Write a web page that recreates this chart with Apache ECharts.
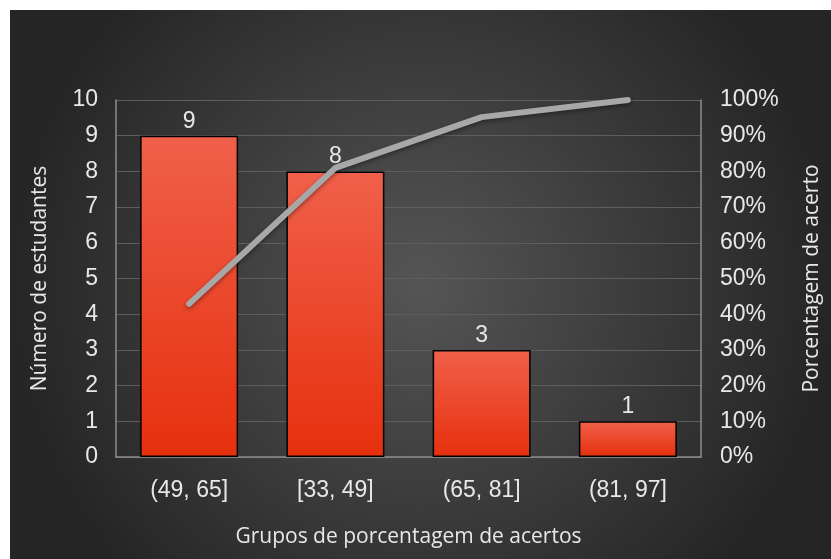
<!DOCTYPE html>
<html>
<head>
<meta charset="utf-8">
<script src="https://cdn.jsdelivr.net/npm/echarts@6/dist/echarts.min.js"></script>
<style>
  html, body { margin: 0; padding: 0; background: #fff; }
  #chart { width: 831px; height: 559px; }
</style>
</head>
<body>
<div id="chart"></div>
<script>
// categorias e valores
const categorias = ['(49, 65]', '[33, 49]', '(65, 81]', '(81, 97]'];
const estudantes = [9, 8, 3, 1];
const acumulado = [42.9, 81.0, 95.2, 100]; // % acumulada

const myChart = echarts.init(document.getElementById('chart'));
const txt = '#e8e8e8';

myChart.setOption({
  backgroundColor: '#ffffff',
  animation: false,
  graphic: [
    {
      type: 'rect',
      z: -10,
      silent: true,
      shape: { x: 10, y: 10, width: 821, height: 549 },
      style: {
        fill: new echarts.graphic.RadialGradient(0.5, 0.5, 0.75, [
          { offset: 0, color: '#555555' },
          { offset: 1, color: '#252525' }
        ])
      }
    }
  ],
  grid: {
    left: 116, //与左边的距离
    right: 129,
    top: 100,
    bottom: 102
  },
  xAxis: {
    type: 'category',
    data: categorias,
    name: 'Grupos de porcentagem de acertos',
    nameLocation: 'middle',
    nameGap: 70,
    nameTextStyle: { color: txt, fontSize: 21, fontFamily: 'Open Sans' },
    axisLabel: { color: txt, fontSize: 23, fontFamily: 'Liberation Sans', margin: 22 },
    axisTick: { show: false },
    axisLine: { lineStyle: { color: '#8c8c8c', width: 1.5 } },
    splitLine: { show: false }
  },
  yAxis: [
    {
      type: 'value',
      min: 0,
      max: 10,
      interval: 1,
      name: 'Número de estudantes',
      nameLocation: 'middle',
      nameGap: 65,
      nameRotate: 90,
      nameTextStyle: { color: txt, fontSize: 21, fontFamily: 'Open Sans' },
      axisLabel: { color: txt, fontSize: 23, fontFamily: 'Liberation Sans', margin: 18 },
      axisTick: { show: false },
      axisLine: { show: true, lineStyle: { color: '#8c8c8c', width: 1.5 } },
      splitLine: { lineStyle: { color: '#5e5e5e', width: 1 } }
    },
    {
      type: 'value',
      min: 0,
      max: 100,
      interval: 10,
      name: 'Porcentagem de acerto',
      nameLocation: 'middle',
      nameGap: 101,
      nameRotate: 90,
      nameTextStyle: { color: txt, fontSize: 21, fontFamily: 'Open Sans' },
      axisLabel: { color: txt, fontSize: 23, fontFamily: 'Liberation Sans', margin: 19, formatter: '{value}%' },
      axisTick: { show: false },
      axisLine: { show: true, lineStyle: { color: '#8c8c8c', width: 1.5 } },
      splitLine: { show: false }
    }
  ],
  series: [
    {
      name: 'Estudantes',
      type: 'bar',
      barWidth: '67%',
      data: estudantes,
      itemStyle: {
        color: new echarts.graphic.LinearGradient(0, 0, 0, 1, [
          { offset: 0, color: '#f0604a' },
          { offset: 1, color: '#e6300e' }
        ]),
        borderColor: '#000',
        borderWidth: 1.5
      },
      label: {
        show: true,
        position: 'top',
        distance: 3,
        color: txt,
        fontSize: 23,
        fontFamily: 'Liberation Sans'
      }
    },
    {
      name: 'Acumulado',
      type: 'line',
      yAxisIndex: 1,
      data: acumulado,
      symbol: 'none',
      lineStyle: {
        color: '#a8a8a8',
        width: 6,
        cap: 'round',
        join: 'round',
        shadowColor: 'rgba(0,0,0,0.4)',
        shadowBlur: 4,
        shadowOffsetY: 2
      },
      z: 3
    }
  ]
});
</script>
</body>
</html>
